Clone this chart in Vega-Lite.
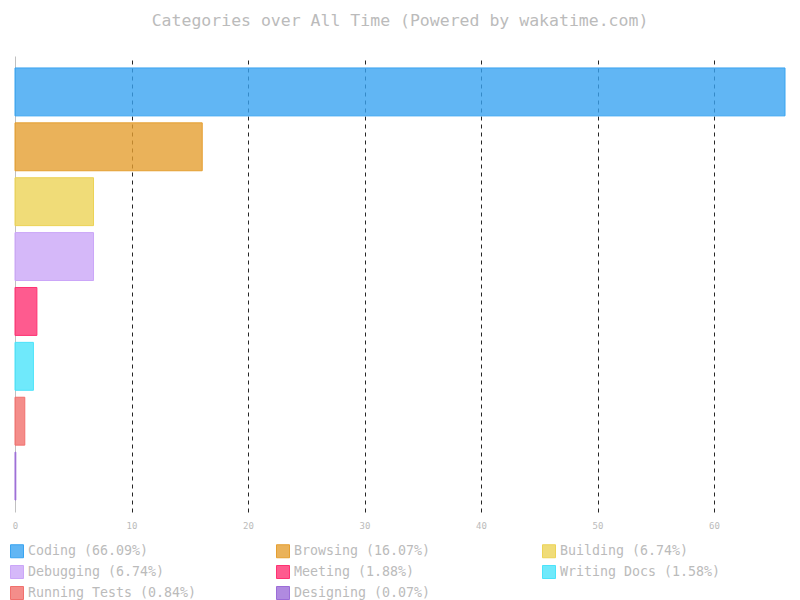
{
  "$schema": "https://vega.github.io/schema/vega-lite/v6.json",
  "autosize": {"type": "none"},
  "width": 770,
  "height": 456,
  "padding": {"left": 15, "top": 56, "right": 15, "bottom": 88},
  "background": "white",
  "title": {
    "text": "Categories over All Time (Powered by wakatime.com)",
    "font": "DejaVu Sans Mono",
    "fontSize": 16.5,
    "fontWeight": "normal",
    "color": "#bbbbbb",
    "anchor": "middle",
    "baseline": "alphabetic",
    "offset": 14
  },
  "data": {
    "values": [
      {"category": "Coding", "label": "Coding (66.09%)", "percent": 66.09},
      {"category": "Browsing", "label": "Browsing (16.07%)", "percent": 16.07},
      {"category": "Building", "label": "Building (6.74%)", "percent": 6.74},
      {"category": "Debugging", "label": "Debugging (6.74%)", "percent": 6.74},
      {"category": "Meeting", "label": "Meeting (1.88%)", "percent": 1.88},
      {"category": "Writing Docs", "label": "Writing Docs (1.58%)", "percent": 1.58},
      {"category": "Running Tests", "label": "Running Tests (0.84%)", "percent": 0.84},
      {"category": "Designing", "label": "Designing (0.07%)", "percent": 0.07}
    ]
  },
  "mark": {"type": "bar", "fillOpacity": 0.8, "strokeWidth": 1},
  "encoding": {
    "y": {
      "field": "label",
      "type": "nominal",
      "sort": null,
      "scale": {"paddingInner": 0.127, "paddingOuter": 0.218},
      "axis": {"title": null, "labels": false, "ticks": false, "domain": true, "domainColor": "#c0c0c0", "domainWidth": 1, "grid": false}
    },
    "x": {
      "field": "percent",
      "type": "quantitative",
      "scale": {"domain": [0, 66.09], "nice": false, "zero": true},
      "axis": {
        "title": null,
        "values": [0, 10, 20, 30, 40, 50, 60],
        "domain": false,
        "ticks": false,
        "grid": true,
        "gridColor": "#000000",
        "gridDash": [4, 4],
        "gridWidth": 1,
        "gridOpacity": {"condition": {"test": "datum.value === 0", "value": 0}, "value": 0.85},
        "labelFont": "DejaVu Sans Mono",
        "labelFontSize": 9,
        "labelColor": "#bbbbbb",
        "labelPadding": 9,
        "labelFlush": false
      }
    },
    "fill": {
      "field": "label",
      "type": "nominal",
      "sort": null,
      "scale": {
        "domain": ["Coding (66.09%)", "Browsing (16.07%)", "Building (6.74%)", "Debugging (6.74%)", "Meeting (1.88%)", "Writing Docs (1.58%)", "Running Tests (0.84%)", "Designing (0.07%)"],
        "range": ["#39a4f1", "#e59f31", "#ecd356", "#cba6f8", "#fe3273", "#4be3fa", "#f1706d", "#9c6dd8"]
      },
      "legend": {
        "title": null,
        "orient": "none",
        "legendX": -5,
        "legendY": 488,
        "direction": "horizontal",
        "columns": 3,
        "gridAlign": "all",
        "columnPadding": 77,
        "rowPadding": 3,
        "symbolType": "square",
        "symbolSize": 169,
        "symbolStrokeWidth": 1,
        "labelFont": "DejaVu Sans Mono",
        "labelFontSize": 13.3,
        "labelColor": "#bbbbbb",
        "labelOffset": 4,
        "labelLimit": 400,
        "encode": {"symbols": {"update": {"fillOpacity": {"value": 0.8}, "strokeOpacity": {"value": 1}}}}
      }
    },
    "stroke": {
      "field": "label",
      "type": "nominal",
      "sort": null,
      "scale": {
        "domain": ["Coding (66.09%)", "Browsing (16.07%)", "Building (6.74%)", "Debugging (6.74%)", "Meeting (1.88%)", "Writing Docs (1.58%)", "Running Tests (0.84%)", "Designing (0.07%)"],
        "range": ["#39a4f1", "#e59f31", "#ecd356", "#cba6f8", "#fe3273", "#4be3fa", "#f1706d", "#9c6dd8"]
      },
      "legend": null
    }
  },
  "config": {"view": {"stroke": null}}
}
